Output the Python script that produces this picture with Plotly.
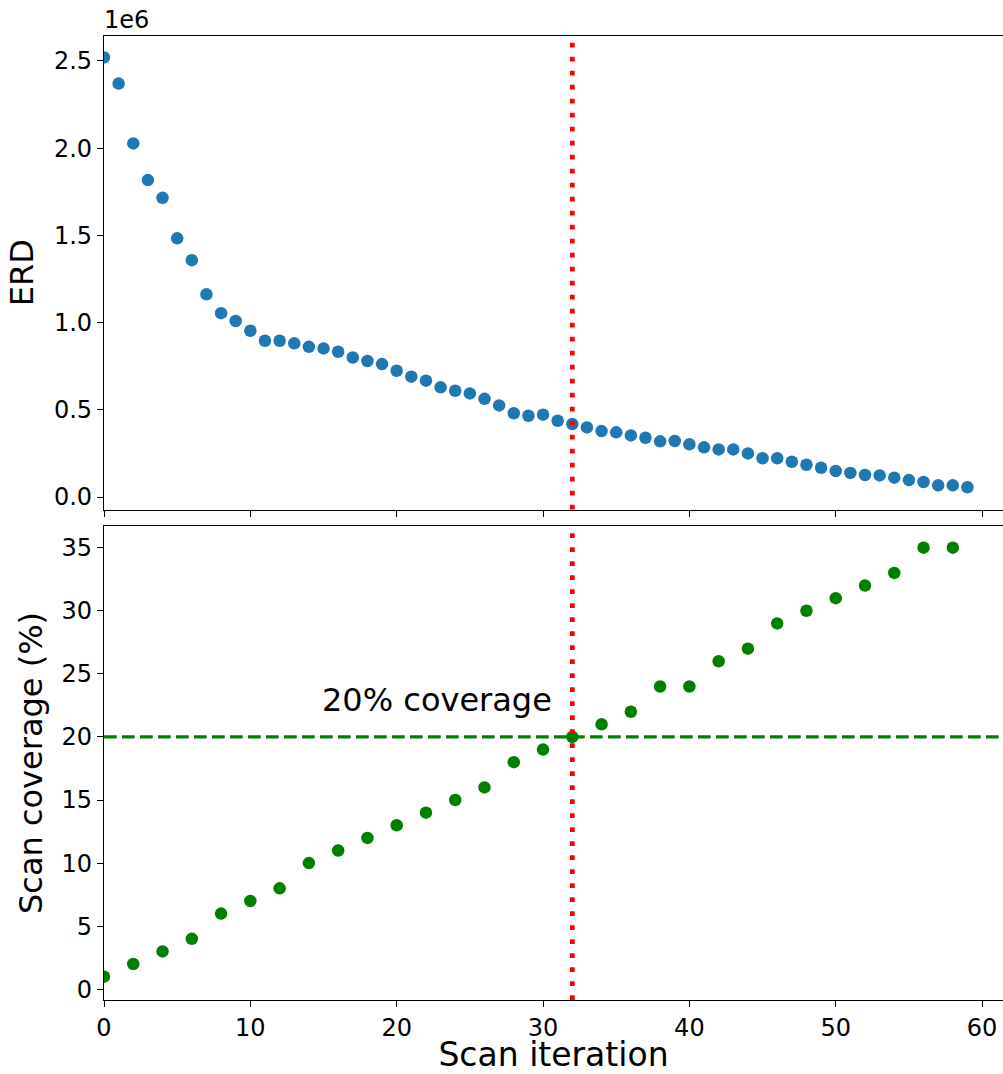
import plotly.graph_objects as go
from plotly.subplots import make_subplots

# ---- data ----
iterations = list(range(60))
erd_values = [
    2.52e6, 2.37e6, 2.027e6, 1.817e6, 1.715e6, 1.483e6, 1.358e6, 1.162e6, 1.054e6, 1.009e6,
    0.953e6, 0.896e6, 0.896e6, 0.881e6, 0.861e6, 0.852e6, 0.833e6, 0.800e6, 0.780e6, 0.762e6,
    0.724e6, 0.690e6, 0.667e6, 0.629e6, 0.609e6, 0.594e6, 0.563e6, 0.525e6, 0.480e6, 0.466e6,
    0.472e6, 0.437e6, 0.418e6, 0.399e6, 0.378e6, 0.371e6, 0.353e6, 0.340e6, 0.319e6, 0.321e6,
    0.302e6, 0.285e6, 0.273e6, 0.273e6, 0.250e6, 0.222e6, 0.222e6, 0.202e6, 0.185e6, 0.168e6,
    0.149e6, 0.138e6, 0.126e6, 0.124e6, 0.111e6, 0.097e6, 0.086e6, 0.067e6, 0.067e6, 0.056e6,
]
coverage_iterations = list(range(0, 60, 2))
coverage_values = [1, 2, 3, 4, 6, 7, 8, 10, 11, 12, 13, 14, 15, 16, 18, 19, 20, 21, 22, 24,
                   24, 26, 27, 29, 30, 31, 32, 33, 35, 35]
threshold_iteration = 32
threshold_coverage = 20
x_ticks = [0, 10, 20, 30, 40, 50, 60]
erd_ticks = [0, 0.5e6, 1.0e6, 1.5e6, 2.0e6, 2.5e6]
erd_tick_labels = ["0.0", "0.5", "1.0", "1.5", "2.0", "2.5"]
cov_ticks = [0, 5, 10, 15, 20, 25, 30, 35]

FONT = "DejaVu Sans"
BLUE = "#1f77b4"
GREEN = "#008000"
RED = "#ff0000"

fig = make_subplots(rows=2, cols=1, shared_xaxes=True, vertical_spacing=0.0166)

fig.add_trace(go.Scatter(x=iterations, y=erd_values, mode="markers",
                         marker=dict(color=BLUE, size=12.5, line=dict(width=0)),
                         showlegend=False), row=1, col=1)
fig.add_trace(go.Scatter(x=coverage_iterations, y=coverage_values, mode="markers",
                         marker=dict(color=GREEN, size=12.5, line=dict(width=0)),
                         showlegend=False), row=2, col=1)

# vertical red dotted lines in both panels
for yref in ["y domain", "y2 domain"]:
    fig.add_shape(type="line", xref="x" if yref == "y domain" else "x2", yref=yref,
                  x0=threshold_iteration, x1=threshold_iteration, y0=0, y1=0.988,
                  line=dict(color=RED, width=4.7, dash="4.7px,9.3px"), layer="above")

# horizontal green dashed line
fig.add_shape(type="line", xref="x2 domain", yref="y2", x0=0, x1=1,
              y0=threshold_coverage, y1=threshold_coverage,
              line=dict(color=GREEN, width=3.2, dash="12.7px,5.3px"), layer="above")

fig.add_annotation(x=15, y=21.3, xref="x2", yref="y2", text="20% coverage",
                   showarrow=False, xanchor="left", yanchor="bottom", xshift=-4,
                   font=dict(family=FONT, size=32, color="black"))

fig.add_annotation(x=0, y=1.0, xref="paper", yref="paper", text="1e6",
                   showarrow=False, xanchor="left", yanchor="bottom", xshift=-2,
                   font=dict(family=FONT, size=24, color="black"))

axis_common = dict(showline=True, linecolor="black", linewidth=1.2, mirror=True,
                   ticks="outside", ticklen=6, tickwidth=1.2, tickcolor="black",
                   showgrid=False, zeroline=False, automargin=False,
                   tickfont=dict(family=FONT, size=24, color="black"))

fig.update_xaxes(range=[0, 61.43], tickvals=x_ticks, **axis_common)
fig.update_xaxes(showticklabels=False, row=1, col=1)
fig.update_xaxes(title=dict(text="Scan iteration", font=dict(family=FONT, size=33, color="black"),
                            standoff=13), row=2, col=1)

fig.update_yaxes(range=[-0.0717e6, 2.643e6], tickvals=erd_ticks, ticktext=erd_tick_labels,
                 title=dict(text="ERD", font=dict(family=FONT, size=32, color="black"), standoff=10),
                 row=1, col=1, **axis_common)
fig.update_yaxes(range=[-0.85, 36.72], tickvals=cov_ticks,
                 title=dict(text="Scan coverage (%)", font=dict(family=FONT, size=32, color="black"),
                            standoff=9),
                 row=2, col=1, **axis_common)

fig.update_layout(
    width=1003, height=1074,
    margin=dict(l=104, r=0, t=36, b=74, autoexpand=False),
    plot_bgcolor="white", paper_bgcolor="white",
    font=dict(family=FONT),
)
fig.layout.yaxis.domain = [0.5088, 1.0]
fig.layout.yaxis2.domain = [0.0, 0.4917]

fig.write_html("out.html")
